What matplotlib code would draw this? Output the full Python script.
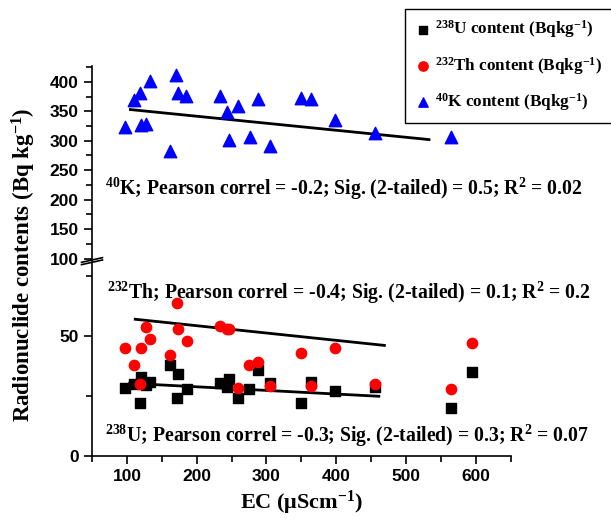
import matplotlib
matplotlib.use("Agg")
import matplotlib.pyplot as plt

plt.rcParams['mathtext.fontset'] = 'custom'
plt.rcParams['mathtext.rm'] = 'Liberation Serif:bold'
plt.rcParams['mathtext.it'] = 'Liberation Serif:bold'
plt.rcParams['mathtext.bf'] = 'Liberation Serif:bold'

# EC values (uS/cm) for each sample
ec = [97, 110, 119.6, 118.6, 127, 133, 162, 173, 172, 186, 234, 243, 247,
      258.6, 275, 287.7, 305, 350, 364, 398.6, 455.7, 565, 594]
u238 = [28.2, 30, 33, 22, 29.7, 31, 38, 34, 24, 28, 30.3, 28.9, 32.2,
        24, 28, 35.8, 30.3, 22, 31, 27, 28.9, 20, 35]
th232 = [45, 37.9, 45, 29.9, 53.9, 48.9, 42, 53, 63.6, 47.9, 54.3, 52.9, 52.9,
         28.2, 37.9, 39, 29.3, 43, 29, 45, 30.1, 28, 47]

ec_k = [97, 110, 119, 119.6, 127, 133, 162, 171, 173, 185, 234, 243, 259,
        247, 276, 288, 305, 350, 364, 398.6, 455.7, 565]
k40 = [323.5, 369, 381, 327.5, 328, 401.7, 282.4, 412, 380.6, 376, 376, 349, 359,
       300.7, 306, 371, 291, 372, 371, 336, 314, 306]

# fitted trend lines (end points)
fit_u_x, fit_u_y = [104, 461], [30.3, 24.9]
fit_th_x, fit_th_y = [112, 469], [57, 46.1]
fit_k_x, fit_k_y = [105, 533], [353, 302]

serif = 'Liberation Serif'
sans = 'Liberation Sans'

fig = plt.figure(figsize=(6.11, 5.19), dpi=100)
left, width = 92 / 611, 418.7 / 611
ax_lo = fig.add_axes([left, 63 / 519, width, 196 / 519])
ax_hi = fig.add_axes([left, 259 / 519, width, 194 / 519])

# lower panel: U and Th
ax_lo.scatter(ec, u238, marker='s', s=45, color='black', zorder=3)
ax_lo.scatter(ec, th232, marker='o', s=55, color='red', zorder=3)
ax_lo.plot(fit_u_x, fit_u_y, color='black', lw=2)
ax_lo.plot(fit_th_x, fit_th_y, color='black', lw=2)
ax_lo.set_xlim(50, 650)
ax_lo.set_ylim(0, 81.7)
ax_lo.set_xticks([100, 200, 300, 400, 500, 600])
ax_lo.set_xticks([50, 150, 250, 350, 450, 550, 650], minor=True)
ax_lo.set_yticks([0, 50])
ax_lo.set_yticks([25, 75], minor=True)

# upper panel: K
ax_hi.scatter(ec_k, k40, marker='^', s=80, color='blue', zorder=3)
ax_hi.plot(fit_k_x, fit_k_y, color='black', lw=2)
ax_hi.set_xlim(50, 650)
ax_hi.set_ylim(97.5, 427)
ax_hi.set_yticks([100, 150, 200, 250, 300, 350, 400])
ax_hi.set_yticks([125, 175, 225, 275, 325, 375, 425], minor=True)
ax_hi.set_xticks([])
ax_hi.spines['bottom'].set_visible(False)

for ax in (ax_lo, ax_hi):
    ax.spines['top'].set_visible(False)
    ax.spines['right'].set_visible(False)
    ax.spines['left'].set_linewidth(1.2)
    ax.spines['bottom'].set_linewidth(1.2)
    ax.tick_params(which='major', length=6, width=1.2, labelsize=12.5)
    ax.tick_params(which='minor', length=4, width=1.2)
    for lab in ax.get_xticklabels() + ax.get_yticklabels():
        lab.set_fontfamily(sans)
        lab.set_fontweight('bold')

# axis break mark
for dy in (-0.012, 0.0):
    ax_hi.plot([-0.025, 0.025], [dy - 0.012, dy + 0.012], transform=ax_hi.transAxes,
               color='black', lw=1.2, clip_on=False)

tfont = dict(fontfamily=serif, fontweight='bold', fontsize=14.2)
ax_hi.text(68, 218, r'$^{40}$K; Pearson correl = -0.2; Sig. (2-tailed) = 0.5; R$^{2}$ = 0.02',
           va='center', **tfont)
ax_lo.text(71, 68, r'$^{232}$Th; Pearson correl = -0.4; Sig. (2-tailed) = 0.1; R$^{2}$ = 0.2',
           va='center', **tfont)
ax_lo.text(68, 8.3, r'$^{238}$U; Pearson correl = -0.3; Sig. (2-tailed) = 0.3; R$^{2}$ = 0.07',
           va='center', **tfont)

ax_lo.set_xlabel(r'EC ($\mu$Scm$^{-1}$)', fontfamily=serif, fontweight='bold',
                 fontsize=16, labelpad=3)
fig.text(24 / 611, 1 - 265 / 519, r'Radionuclide contents (Bq kg$^{-1}$)', rotation=90,
         ha='center', va='center', fontfamily=serif, fontweight='bold', fontsize=16.5)

h1 = ax_lo.scatter([], [], marker='s', s=30, color='black')
h2 = ax_lo.scatter([], [], marker='o', s=45, color='red')
h3 = ax_lo.scatter([], [], marker='^', s=45, color='blue')
leg = fig.legend([h1, h2, h3],
                 [r'$^{238}$U content (Bqkg$^{-1}$)', r'$^{232}$Th content (Bqkg$^{-1}$)',
                  r'$^{40}$K content (Bqkg$^{-1}$)'],
                 loc='upper left', bbox_to_anchor=(405 / 611, 1 - 9 / 519),
                 borderaxespad=0,
                 prop=dict(family=serif, weight='bold', size=12.3),
                 frameon=True, fancybox=False, framealpha=1, edgecolor='black',
                 handletextpad=0.2, labelspacing=0.85, borderpad=0.55, handlelength=1.0)
leg.get_frame().set_linewidth(1.0)

fig.savefig('out.png', dpi=100)
